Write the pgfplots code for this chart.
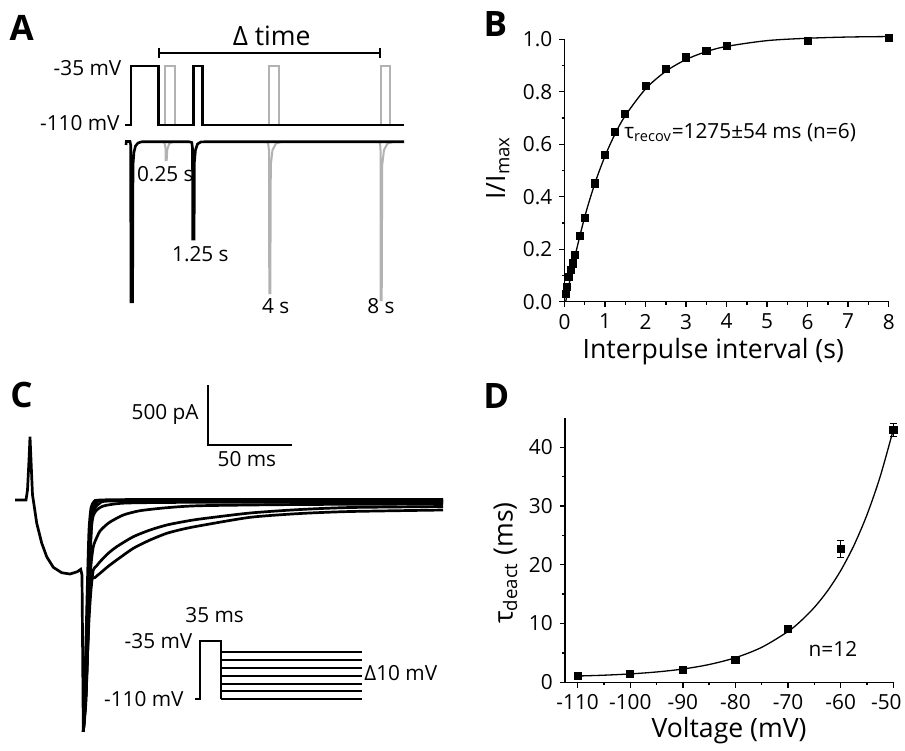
\documentclass[border=0pt]{standalone}
\usepackage{fontspec}
\setmainfont{Open Sans}
\usepackage{pgfplots}
\pgfplotsset{compat=1.18}
\definecolor{lgray}{RGB}{178,178,178}
\newcommand{\fA}{\fontsize{10.4}{12}\selectfont}
\newcommand{\fL}{\fontsize{13.3}{15}\selectfont}
\newcommand{\fP}{\fontsize{17.5}{20}\selectfont\bfseries}
\pgfplotsset{
  panel/.style={
    scale only axis, clip=false,
    axis x line*=bottom, axis y line*=left,
    axis line style={line width=0.75pt},
    tick align=outside,
    major tick length=2.6pt, minor tick length=1.5pt,
    tick style={line width=0.7pt, black},
    minor x tick num=1, minor y tick num=1,
    tick label style={font=\fA},
    /pgf/number format/assume math mode=true,
  }
}
\begin{document}
\begin{tikzpicture}
\useasboundingbox (0pt,-375pt) rectangle (452.5pt,0pt);
% ---------------- Panel B ----------------
\begin{axis}[panel,
  at={(282.25pt,-150.85pt)}, anchor=south west,
  width=162.1pt, height=131.2pt,
  xmin=0, xmax=8, ymin=0, ymax=1,
  xtick={0,1,2,3,4,5,6,7,8},
  ytick={0,0.2,0.4,0.6,0.8,1.0},
  yticklabel style={/pgf/number format/.cd, fixed, fixed zerofill, precision=1},
]
\addplot[black, line width=0.65pt, smooth, tension=0.5] coordinates {
(0.03,0) (0.1,0.0565) (0.25,0.167) (0.5,0.324) (0.75,0.451) (1,0.555)
(1.25,0.640) (1.5,0.709) (2,0.811) (2.5,0.878) (3,0.923) (3.5,0.953)
(4,0.973) (5,0.995) (6,1.004) (7,1.0087) (8,1.0105)};
\addplot[only marks, mark=square*, mark size=1.8pt, black] coordinates {
(0.025,0.03) (0.05,0.057) (0.1,0.095) (0.15,0.12) (0.2,0.146) (0.25,0.178)
(0.375,0.25) (0.5,0.318) (0.75,0.451) (1,0.560) (1.25,0.647) (1.5,0.717)
(2,0.821) (2.5,0.886) (3,0.931) (3.5,0.955) (4,0.976) (6,0.994) (8,1.005)};
\end{axis}
% ---------------- Panel D ----------------
\begin{axis}[panel,
  at={(282.5pt,-341.15pt)}, anchor=south west,
  width=164.15pt, height=132.2pt,
  xmin=-112.4, xmax=-50, ymin=0, ymax=45,
  xtick={-110,-100,-90,-80,-70,-60,-50},
  xticklabels={-110,-100,-90,-80,-70,-60,{\hspace*{-7pt}-50}},
  ytick={0,10,20,30,40},
]
\addplot[black, line width=0.65pt, smooth, tension=0.5] coordinates {
(-110,1.07) (-105,1.21) (-100,1.43) (-95,1.76) (-90,2.26) (-85,3.03)
(-80,4.19) (-75,5.96) (-70,8.66) (-67.5,10.5) (-65,12.76) (-62.5,15.56)
(-60,19.01) (-57.5,23.27) (-55,28.52) (-52.5,35.0) (-50,43.0)};
\addplot[only marks, mark=square*, mark size=1.8pt, black,
  error bars/.cd, y dir=both, y explicit,
  error bar style={line width=0.6pt, black},
  error mark options={rotate=90, mark size=1.6pt, line width=0.6pt, black}]
  coordinates {
(-110,1.13) +- (0,0)
(-100,1.48) +- (0,0)
(-90,2.1) +- (0,0)
(-80,3.8) +- (0,0)
(-70,9.13) +- (0,0.6)
(-60,22.7) +- (0,1.5)
(-50,42.9) +- (0,1.1)};
\end{axis}
% ---------------- Overlay (pixel coordinates) ----------------
\begin{axis}[at={(0pt,-375pt)}, anchor=south west, scale only axis,
  width=452.5pt, height=375pt, xmin=0, xmax=905, ymin=0, ymax=750,
  y dir=reverse, hide axis, clip=false]
% Panel A : voltage protocol
\addplot[lgray, line width=1pt, sharp plot] coordinates {(165,125) (165,66) (175,66) (175,125)};
\addplot[lgray, line width=1pt, sharp plot] coordinates {(269.3,125) (269.3,66) (279.3,66) (279.3,125)};
\addplot[lgray, line width=1pt, sharp plot] coordinates {(380.7,125) (380.7,66) (390,66) (390,125)};
\addplot[black, line width=1.2pt, sharp plot] coordinates {
(125,125) (130.7,125) (130.7,66) (158.3,66) (158.3,125) (193.3,125)
(193.3,66) (202.3,66) (202.3,125) (404,125)};
% Panel A : currents
\addplot[lgray, line width=1pt, sharp plot] coordinates {
(160,141.7) (164.5,142.5) (165.5,148) (165.7,160) (166.7,160) (167.2,150) (169,144) (173,141.7)};
\addplot[lgray, line width=1pt, sharp plot] coordinates {
(263,141.7) (268,142.5) (269,150) (269.3,293) (270.3,293) (270.8,165) (272.5,150) (276,143.5) (282,141.7)};
\addplot[lgray, line width=1pt, sharp plot] coordinates {
(375,141.7) (380,142.5) (380.5,150) (380.7,300) (381.7,300) (382.2,165) (384,150) (387.5,143.5) (394,141.7)};
\addplot[black, line width=1.3pt, sharp plot] coordinates {
(126,145) (126.3,141.5) (130,141.5) (130.7,145) (130.9,301.7) (132.6,301.7)
(133,165) (134,152) (135.5,146) (138,143) (142,141.7) (189,141.7)
(191.8,142.5) (192.5,148) (192.7,239) (194.1,239) (194.4,162) (195.5,150)
(197.5,144) (201,141.9) (206,141.7) (404,141.7)};
% bracket
\addplot[black, line width=0.8pt, sharp plot] coordinates {(159,52.7) (380,52.7)};
\addplot[black, line width=0.8pt, sharp plot] coordinates {(159,47.5) (159,58)};
\addplot[black, line width=0.8pt, sharp plot] coordinates {(380,47.5) (380,58)};
% Panel C : scale bar
\addplot[black, line width=1pt, sharp plot] coordinates {(208.3,385) (208.3,445) (291.7,445)};
% Panel C : currents
\addplot[black, line width=1.35pt, sharp plot] coordinates {
(15,500) (26,500) (27.5,490) (29,460) (30,436.7) (31,460) (32.5,495) (33.3,500)
(36.7,523) (41.7,543) (46.7,556.7) (53.3,567.3) (61.7,572.7) (70,574)
(77.3,571.7) (80.7,569.3) (82,575) (83.3,731.7)};
\addplot[black, line width=1.35pt, smooth, tension=0.4] coordinates {
(83.3,731.7) (84.5,700) (86,640) (87.5,580) (89,530) (91,508) (94,501.5) (100,500) (150,499.5) (443,499.5)};
\addplot[black, line width=1.35pt, smooth, tension=0.4] coordinates {
(83.3,731.7) (85,690) (87,620) (89,560) (91,522) (93.5,507) (97,502) (105,500.5) (200,500) (443,500.3)};
\addplot[black, line width=1.35pt, smooth, tension=0.4] coordinates {
(83.3,731.7) (85.5,700) (88,610) (90,550) (92,520) (95,508) (100,503) (110,501) (200,500.5) (443,501.5)};
\addplot[black, line width=1.35pt, smooth, tension=0.4] coordinates {
(83.3,731.7) (86,700) (88.5,620) (90,560) (91.7,525) (93.5,515) (96.7,510) (101,507) (106.7,505.2) (126.7,503) (200,502.3) (443,502.5)};
\addplot[black, line width=1.35pt, smooth, tension=0.4] coordinates {
(83.3,731.7) (86,690) (89,600) (91,565) (93.3,546.7) (96.5,538) (100,531) (105,526) (110,522) (123.3,515) (140,510.7) (166.7,507.7) (200,505.7) (300,504.5) (443,504)};
\addplot[black, line width=1.35pt, smooth, tension=0.4] coordinates {
(83.3,731.7) (86,690) (89,620) (91,590) (93.3,570) (96.5,566) (100,561.7) (108,553.5) (116.7,546.7) (133.3,536.7) (150,530) (166.7,525) (183.3,521.7) (200,519) (250,513) (300,509.5) (350,507.5) (443,506.5)};
\addplot[black, line width=1.35pt, smooth, tension=0.4] coordinates {
(83.3,731.7) (86,695) (88,640) (90,583.3) (95,577.5) (100,573.3) (108,566.5) (116.7,560) (133.3,548.3) (150,540) (166.7,533.3) (183.3,529) (200,525.7) (250,517.3) (300,513.5) (350,511.5) (443,510)};
% Panel C : protocol
\addplot[black, line width=1pt, sharp plot] coordinates {(195,699) (200,699) (200,641) (220.7,641) (220.7,699)};
\addplot[black, line width=1pt, sharp plot] coordinates {(220.7,652.3) (361.7,652.3)};
\addplot[black, line width=1pt, sharp plot] coordinates {(220.7,660.3) (361.7,660.3)};
\addplot[black, line width=1pt, sharp plot] coordinates {(220.7,668) (361.7,668)};
\addplot[black, line width=1pt, sharp plot] coordinates {(220.7,676) (361.7,676)};
\addplot[black, line width=1pt, sharp plot] coordinates {(220.7,683.7) (361.7,683.7)};
\addplot[black, line width=1pt, sharp plot] coordinates {(220.7,691.3) (361.7,691.3)};
\addplot[black, line width=1pt, sharp plot] coordinates {(220.7,699) (361.7,699)};
% ---- texts ----
\node[font=\fP, anchor=base west, inner sep=0] at (axis cs:9.3,40) {A};
\node[font=\fP, anchor=base west, inner sep=0] at (axis cs:483.3,36.7) {B};
\node[font=\fP, anchor=base west, inner sep=0] at (axis cs:10,407) {C};
\node[font=\fP, anchor=base west, inner sep=0] at (axis cs:483,408) {D};
\node[font=\fL, anchor=base, inner sep=0] at (axis cs:271.7,45) {Δ time};
\node[font=\fA, anchor=base east, inner sep=0] at (axis cs:121.7,75) {-35 mV};
\node[font=\fA, anchor=base east, inner sep=0] at (axis cs:120,130) {-110 mV};
\node[font=\fA, anchor=base west, inner sep=0] at (axis cs:136.7,181.7) {0.25 s};
\node[font=\fA, anchor=base west, inner sep=0] at (axis cs:171.7,261.7) {1.25 s};
\node[font=\fA, anchor=base, inner sep=0] at (axis cs:275.8,313) {4 s};
\node[font=\fA, anchor=base, inner sep=0] at (axis cs:381,313) {8 s};
\node[font=\fA, anchor=base east, inner sep=0] at (axis cs:199,419.3) {500 pA};
\node[font=\fA, anchor=base west, inner sep=0] at (axis cs:217.3,466) {50 ms};
\node[font=\fA, anchor=base west, inner sep=0] at (axis cs:185,622.7) {35 ms};
\node[font=\fA, anchor=base east, inner sep=0] at (axis cs:192.7,648.3) {-35 mV};
\node[font=\fA, anchor=base east, inner sep=0] at (axis cs:184,706.7) {-110 mV};
\node[font=\fA, anchor=base west, inner sep=0] at (axis cs:364,680.7) {Δ10 mV};
\node[font=\fA, anchor=base west, inner sep=0] at (axis cs:624,138.3) {τ\textsubscript{recov}=1275±54 ms (n=6)};
\node[font=\fA, anchor=base west, inner sep=0] at (axis cs:808.3,656) {n=12};
\node[font=\fL, anchor=base, inner sep=0] at (axis cs:713.3,358) {Interpulse interval (s)};
\node[font=\fL, anchor=base, inner sep=0, rotate=90] at (axis cs:505,168) {I/I\textsubscript{max}};
\node[font=\fL, anchor=base, inner sep=0] at (axis cs:729,737) {Voltage (mV)};
\node[font=\fL, anchor=base, inner sep=0, rotate=90] at (axis cs:512.7,563) {τ\textsubscript{deact} (ms)};
\end{axis}
\end{tikzpicture}
\end{document}
